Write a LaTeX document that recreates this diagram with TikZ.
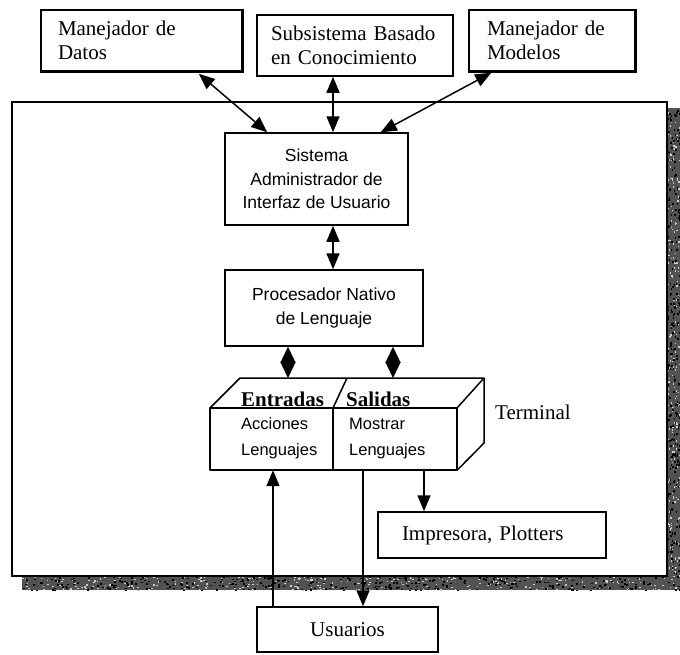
\documentclass[tikz,border=0pt]{standalone}
\usepackage{fontspec}
\setmainfont{Liberation Serif}
\newfontfamily\helv{Liberation Sans}
\usetikzlibrary{arrows.meta,calc}

\begin{document}
\begin{tikzpicture}[x=1pt,y=-1pt,
  box/.style={draw, line width=1.5pt, rectangle, inner sep=0pt, fill=white},
  serif/.style={font=\fontsize{21}{24}\selectfont},
  sans/.style={font=\helv\fontsize{17.5}{23.5}\selectfont},
  facetext/.style={font=\helv\fontsize{16.5}{22}\selectfont, inner sep=0pt, anchor=west},
  headtext/.style={font=\bfseries\fontsize{21}{24}\selectfont, inner sep=0pt, anchor=west},
  tip/.tip={Triangle[length=16pt,width=13pt]},
  arr/.style={line width=1.5pt, -tip},
  darr/.style={line width=1.5pt, tip-tip},
  diam/.style={line width=1.5pt, {Triangle[length=16pt,width=15pt]}-{Triangle[length=16pt,width=15pt]}},
  edge3d/.style={line width=1.5pt, line join=round},
]
\useasboundingbox (0,0) rectangle (680,654);

% stippled drop shadow of the terminal frame
\fill[black!68] (667,108) rectangle (680,590);
\fill[black!68] (22,576) rectangle (680,590);
\pgfmathsetseed{7}
\foreach \i in {1,...,300}{
  \pgfmathsetmacro{\sx}{22+658*rnd}
  \pgfmathsetmacro{\sy}{576+14*rnd}
  \fill[black!20] (\sx,\sy) rectangle ++(1.6,1.2);
}
\foreach \i in {1,...,350}{
  \pgfmathsetmacro{\sx}{22+658*rnd}
  \pgfmathsetmacro{\sy}{576+14*rnd}
  \fill[black] (\sx,\sy) rectangle ++(2,1.5);
}
\foreach \i in {1,...,220}{
  \pgfmathsetmacro{\sx}{667+13*rnd}
  \pgfmathsetmacro{\sy}{108+468*rnd}
  \fill[black!20] (\sx,\sy) rectangle ++(1.2,1.6);
}
\foreach \i in {1,...,260}{
  \pgfmathsetmacro{\sx}{667+13*rnd}
  \pgfmathsetmacro{\sy}{108+468*rnd}
  \fill[black] (\sx,\sy) rectangle ++(1.5,2);
}
\node[box, minimum width=655pt, minimum height=474pt] (frame) at (339.5,339) {};

% external subsystems
\node[box, serif, minimum width=201pt, minimum height=61pt, text width=167pt, align=left]
  (datos) at (141.5,40.5) {Manejador de\\Datos};
\node[box, serif, minimum width=196pt, minimum height=61pt, text width=168pt, align=left]
  (subs) at (355,45.5) {Subsistema Basado\\en Conocimiento};
\node[box, serif, minimum width=166pt, minimum height=61pt, text width=130pt, align=left]
  (modelos) at (552,40.5) {Manejador de\\Modelos};
% heavier lower and right edges of the two manager boxes
\draw[line width=2.2pt] (datos.south west) -- (datos.south east) -- (datos.north east);
\draw[line width=2.2pt] (modelos.south west) -- (modelos.south east) -- (modelos.north east);

% inner processing boxes
\node[box, sans, minimum width=183pt, minimum height=92pt, align=center]
  (sis) at (316.5,179) {Sistema\\Administrador de\\Interfaz de Usuario};
\node[box, sans, minimum width=198pt, minimum height=76pt, align=center]
  (proc) at (324,308) {Procesador Nativo\\de Lenguaje};

% terminal drawn as a block: front faces, top face and right face
\coordinate (fl) at (210,408);
\coordinate (fm) at (333,408);
\coordinate (fr) at (457,408);
\coordinate (bl) at (240,378);
\coordinate (bm) at (347,378);
\coordinate (br) at (484,378);
\coordinate (rb) at (484,443);
\node[inner sep=0pt, minimum width=123pt, minimum height=62pt] (entr) at (271.5,439) {};
\node[inner sep=0pt, minimum width=124pt, minimum height=62pt] (sal) at (395,439) {};
\draw[edge3d] (entr.north west) rectangle (sal.south east);
\draw[edge3d] (entr.north east) -- (entr.south east);
\draw[edge3d] (fl) -- (bl) -- (br) -- (fr);
\draw[edge3d] (br) -- (rb) -- (sal.south east);
\draw[edge3d] (fm) -- (bm);

\node[headtext] (enth) at (241,399) {Entradas};
\node[headtext] (salh) at (346,399) {Salidas};
\node[facetext] (acc) at (241,424) {Acciones};
\node[facetext] (len1) at (241,451) {Lenguajes};
\node[facetext] (mos) at (349,424) {Mostrar};
\node[facetext] (len2) at (349,451) {Lenguajes};
\node[serif, inner sep=0pt, anchor=west] (term) at (495,412) {Terminal};

% output devices and users
\node[box, serif, minimum width=228pt, minimum height=46pt, text width=180pt, align=left]
  (imp) at (492,535) {Impresora, Plotters};
\node[box, serif, minimum width=181pt, minimum height=45pt]
  (usu) at (347.5,629.5) {Usuarios};

% connectors
\coordinate (midx) at (333,0);
\coordinate (ex) at (288,378);
\coordinate (sx) at (393,378);
\coordinate (upx) at (273,0);
\coordinate (dnx) at (363,0);
\coordinate (prx) at (424,0);

\draw[darr] ($(datos.south east)+(-44,2)$) -- ($(sis.north west)+(43,0)$);
\draw[darr] (subs.south -| midx) -- (sis.north -| midx);
\draw[darr] ($(modelos.south west)+(23,1)$) -- ($(sis.north east)+(-28,0)$);
\draw[darr] (sis.south -| midx) -- (proc.north -| midx);
\draw[diam] (proc.south -| ex) -- (ex);
\draw[diam] (proc.south -| sx) -- (sx);
\draw[arr] (usu.north -| upx) -- (entr.south -| upx);
\draw[arr] (sal.south -| dnx) -- (usu.north -| dnx);
\draw[arr] (sal.south -| prx) -- (imp.north -| prx);
\end{tikzpicture}
\end{document}
